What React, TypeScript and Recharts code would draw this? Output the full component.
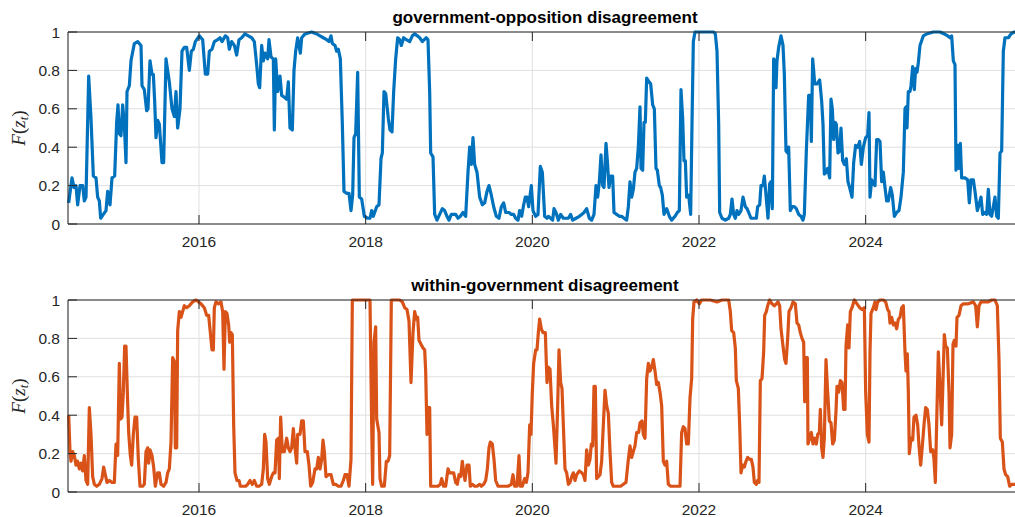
import React from 'react';
import { LineChart, Line, XAxis, YAxis, CartesianGrid } from 'recharts';

// decimal year, F(z_t)
const govOpposition: [number, number][] = [
  [2014.436, 0.11], [2014.476, 0.24], [2014.5, 0.19], [2014.524, 0.2], [2014.544, 0.1], [2014.572, 0.2], [2014.604, 0.2], [2014.624, 0.12],
  [2014.644, 0.14], [2014.676, 0.77], [2014.704, 0.55], [2014.732, 0.25], [2014.764, 0.24], [2014.784, 0.14], [2014.804, 0.12], [2014.82, 0.03],
  [2014.852, 0.05], [2014.884, 0.07], [2014.904, 0.17], [2014.932, 0.1], [2014.956, 0.24], [2014.988, 0.25], [2015.012, 0.53], [2015.028, 0.62],
  [2015.044, 0.47], [2015.064, 0.46], [2015.084, 0.62], [2015.104, 0.52], [2015.124, 0.32], [2015.136, 0.69], [2015.164, 0.72], [2015.184, 0.85],
  [2015.224, 0.94], [2015.264, 0.95], [2015.304, 0.93], [2015.316, 0.72], [2015.344, 0.7], [2015.372, 0.59], [2015.388, 0.6], [2015.412, 0.85],
  [2015.436, 0.78], [2015.452, 0.78], [2015.468, 0.64], [2015.484, 0.45], [2015.504, 0.54], [2015.524, 0.52], [2015.556, 0.32], [2015.576, 0.32],
  [2015.604, 0.86], [2015.644, 0.74], [2015.676, 0.6], [2015.704, 0.56], [2015.724, 0.69], [2015.744, 0.5], [2015.772, 0.6], [2015.796, 0.9],
  [2015.824, 0.92], [2015.852, 0.92], [2015.884, 0.8], [2015.908, 0.9], [2015.932, 0.91], [2015.956, 0.95], [2016.004, 0.98], [2016.044, 0.96],
  [2016.076, 0.78], [2016.104, 0.78], [2016.124, 0.9], [2016.156, 0.91], [2016.184, 0.95], [2016.224, 0.96], [2016.252, 0.97], [2016.276, 0.95],
  [2016.316, 0.98], [2016.344, 0.97], [2016.364, 0.91], [2016.392, 0.95], [2016.424, 0.93], [2016.452, 0.88], [2016.48, 0.96], [2016.512, 0.97],
  [2016.552, 0.99], [2016.592, 0.98], [2016.632, 0.97], [2016.664, 0.95], [2016.692, 0.83], [2016.712, 0.73], [2016.728, 0.71], [2016.752, 0.93],
  [2016.772, 0.85], [2016.792, 0.89], [2016.824, 0.86], [2016.84, 0.96], [2016.864, 0.87], [2016.892, 0.86], [2016.904, 0.49], [2016.92, 0.86],
  [2016.944, 0.69], [2016.972, 0.77], [2016.992, 0.67], [2017.024, 0.66], [2017.052, 0.65], [2017.072, 0.74], [2017.092, 0.5], [2017.12, 0.49],
  [2017.14, 0.8], [2017.16, 0.9], [2017.184, 0.97], [2017.2, 0.93], [2017.216, 0.89], [2017.232, 0.97], [2017.272, 0.99], [2017.352, 1],
  [2017.412, 0.99], [2017.452, 0.98], [2017.492, 0.97], [2017.532, 0.96], [2017.56, 0.95], [2017.584, 0.98], [2017.6, 0.94], [2017.632, 0.93],
  [2017.652, 0.9], [2017.672, 0.91], [2017.696, 0.86], [2017.72, 0.52], [2017.74, 0.17], [2017.772, 0.16], [2017.8, 0.16], [2017.824, 0.07],
  [2017.844, 0.15], [2017.86, 0.45], [2017.88, 0.47], [2017.904, 0.79], [2017.924, 0.14], [2017.952, 0.13], [2017.984, 0.04], [2018.024, 0.03],
  [2018.052, 0.03], [2018.072, 0.07], [2018.092, 0.04], [2018.132, 0.09], [2018.16, 0.1], [2018.184, 0.34], [2018.2, 0.37], [2018.22, 0.69],
  [2018.24, 0.68], [2018.272, 0.55], [2018.292, 0.49], [2018.316, 0.48], [2018.336, 0.69], [2018.36, 0.86], [2018.384, 0.97], [2018.408, 0.96],
  [2018.428, 0.93], [2018.456, 0.97], [2018.488, 0.96], [2018.528, 0.95], [2018.56, 0.98], [2018.588, 0.99], [2018.62, 0.98], [2018.648, 0.97],
  [2018.68, 0.95], [2018.704, 0.96], [2018.728, 0.97], [2018.748, 0.96], [2018.768, 0.69], [2018.78, 0.37], [2018.808, 0.35], [2018.828, 0.05],
  [2018.856, 0.02], [2018.888, 0.05], [2018.92, 0.08], [2018.948, 0.07], [2018.976, 0.04], [2019.0, 0.02], [2019.028, 0.05], [2019.056, 0.05],
  [2019.08, 0.05], [2019.108, 0.03], [2019.136, 0.04], [2019.168, 0.06], [2019.2, 0.04], [2019.228, 0.27], [2019.248, 0.4], [2019.268, 0.31],
  [2019.288, 0.45], [2019.308, 0.31], [2019.336, 0.27], [2019.368, 0.14], [2019.4, 0.1], [2019.428, 0.11], [2019.456, 0.17], [2019.48, 0.2],
  [2019.508, 0.15], [2019.536, 0.09], [2019.568, 0.04], [2019.6, 0.03], [2019.628, 0.09], [2019.656, 0.11], [2019.68, 0.06], [2019.72, 0.06],
  [2019.748, 0.05], [2019.776, 0.05], [2019.8, 0.03], [2019.828, 0.02], [2019.848, 0.07], [2019.872, 0.04], [2019.896, 0.1], [2019.916, 0.14],
  [2019.936, 0.14], [2019.956, 0.09], [2019.988, 0.2], [2020.008, 0.07], [2020.04, 0.04], [2020.068, 0.05], [2020.096, 0.3], [2020.12, 0.27],
  [2020.148, 0.04], [2020.176, 0.03], [2020.192, 0.04], [2020.22, 0.03], [2020.244, 0.02], [2020.26, 0.08], [2020.284, 0.06], [2020.312, 0.02],
  [2020.34, 0.05], [2020.372, 0.03], [2020.404, 0.03], [2020.432, 0.03], [2020.46, 0.05], [2020.484, 0.02], [2020.524, 0.03], [2020.564, 0.04],
  [2020.592, 0.05], [2020.62, 0.06], [2020.652, 0.08], [2020.684, 0.03], [2020.712, 0.02], [2020.74, 0.05], [2020.764, 0.2], [2020.784, 0.14],
  [2020.804, 0.22], [2020.824, 0.36], [2020.844, 0.2], [2020.86, 0.19], [2020.884, 0.42], [2020.9, 0.33], [2020.92, 0.19], [2020.94, 0.25],
  [2020.964, 0.25], [2020.98, 0.06], [2021.012, 0.05], [2021.044, 0.04], [2021.072, 0.04], [2021.1, 0.03], [2021.132, 0.02], [2021.152, 0.09],
  [2021.172, 0.22], [2021.192, 0.14], [2021.212, 0.18], [2021.232, 0.27], [2021.252, 0.29], [2021.272, 0.4], [2021.292, 0.61], [2021.304, 0.29],
  [2021.324, 0.28], [2021.34, 0.53], [2021.356, 0.53], [2021.372, 0.76], [2021.4, 0.74], [2021.42, 0.73], [2021.444, 0.62], [2021.464, 0.6],
  [2021.484, 0.29], [2021.5, 0.28], [2021.524, 0.2], [2021.54, 0.19], [2021.56, 0.15], [2021.58, 0.05], [2021.612, 0.08], [2021.644, 0.04],
  [2021.672, 0.02], [2021.712, 0.04], [2021.74, 0.06], [2021.764, 0.07], [2021.784, 0.7], [2021.804, 0.55], [2021.82, 0.33], [2021.836, 0.33],
  [2021.852, 0.14], [2021.876, 0.15], [2021.9, 0.05], [2021.916, 0.52], [2021.932, 0.95], [2021.952, 1], [2022.072, 1], [2022.176, 1],
  [2022.196, 0.99], [2022.216, 0.9], [2022.236, 0.52], [2022.248, 0.06], [2022.276, 0.03], [2022.316, 0.02], [2022.356, 0.03], [2022.376, 0.05],
  [2022.396, 0.13], [2022.416, 0.05], [2022.436, 0.03], [2022.456, 0.07], [2022.476, 0.05], [2022.504, 0.07], [2022.528, 0.14], [2022.556, 0.09],
  [2022.576, 0.08], [2022.596, 0.06], [2022.624, 0.03], [2022.656, 0.03], [2022.688, 0.03], [2022.704, 0.09], [2022.728, 0.1], [2022.744, 0.2],
  [2022.768, 0.2], [2022.784, 0.25], [2022.804, 0.15], [2022.828, 0.03], [2022.848, 0.21], [2022.864, 0.22], [2022.88, 0.08], [2022.896, 0.86],
  [2022.912, 0.85], [2022.924, 0.71], [2022.936, 0.85], [2022.956, 0.92], [2022.984, 0.98], [2023.008, 0.93], [2023.024, 0.78], [2023.044, 0.38],
  [2023.064, 0.37], [2023.076, 0.4], [2023.096, 0.07], [2023.12, 0.09], [2023.144, 0.09], [2023.168, 0.08], [2023.196, 0.05], [2023.224, 0.04],
  [2023.248, 0.02], [2023.264, 0.05], [2023.288, 0.38], [2023.316, 0.67], [2023.336, 0.67], [2023.348, 0.43], [2023.364, 0.86], [2023.376, 0.8],
  [2023.388, 0.73], [2023.416, 0.73], [2023.448, 0.75], [2023.472, 0.64], [2023.488, 0.52], [2023.504, 0.26], [2023.528, 0.27], [2023.544, 0.29],
  [2023.568, 0.24], [2023.584, 0.65], [2023.6, 0.6], [2023.616, 0.44], [2023.632, 0.53], [2023.648, 0.52], [2023.668, 0.37], [2023.688, 0.38],
  [2023.704, 0.5], [2023.724, 0.33], [2023.744, 0.31], [2023.768, 0.34], [2023.788, 0.22], [2023.808, 0.19], [2023.836, 0.14], [2023.856, 0.32],
  [2023.88, 0.41], [2023.904, 0.4], [2023.928, 0.43], [2023.948, 0.31], [2023.972, 0.4], [2024.0, 0.45], [2024.024, 0.46], [2024.04, 0.58],
  [2024.052, 0.14], [2024.072, 0.23], [2024.092, 0.21], [2024.112, 0.2], [2024.132, 0.44], [2024.152, 0.44], [2024.172, 0.43], [2024.192, 0.22],
  [2024.212, 0.27], [2024.232, 0.19], [2024.252, 0.12], [2024.272, 0.12], [2024.3, 0.19], [2024.32, 0.15], [2024.344, 0.04], [2024.372, 0.06],
  [2024.4, 0.07], [2024.424, 0.14], [2024.452, 0.27], [2024.472, 0.6], [2024.484, 0.61], [2024.496, 0.5], [2024.512, 0.69], [2024.532, 0.69],
  [2024.544, 0.72], [2024.564, 0.82], [2024.584, 0.7], [2024.6, 0.81], [2024.616, 0.79], [2024.632, 0.84], [2024.652, 0.93], [2024.692, 0.98],
  [2024.732, 0.99], [2024.812, 1], [2024.892, 1], [2024.944, 0.99], [2024.984, 0.98], [2025.012, 0.97], [2025.032, 0.98], [2025.052, 0.85],
  [2025.072, 0.83], [2025.084, 0.28], [2025.104, 0.41], [2025.12, 0.29], [2025.136, 0.42], [2025.152, 0.24], [2025.192, 0.24], [2025.224, 0.23],
  [2025.244, 0.11], [2025.264, 0.23], [2025.292, 0.23], [2025.312, 0.17], [2025.34, 0.07], [2025.36, 0.1], [2025.384, 0.14], [2025.404, 0.05],
  [2025.432, 0.06], [2025.452, 0.05], [2025.472, 0.18], [2025.492, 0.05], [2025.512, 0.04], [2025.532, 0.09], [2025.552, 0.14], [2025.572, 0.04],
  [2025.592, 0.03], [2025.612, 0.37], [2025.632, 0.38], [2025.652, 0.9], [2025.672, 0.97], [2025.712, 0.97], [2025.744, 0.99], [2025.784, 1],
  [2025.82, 1],
];

const withinGovernment: [number, number][] = [
  [2014.436, 0.4], [2014.452, 0.21], [2014.464, 0.16], [2014.484, 0.21], [2014.504, 0.19], [2014.524, 0.14], [2014.544, 0.16], [2014.564, 0.12],
  [2014.584, 0.15], [2014.604, 0.11], [2014.624, 0.19], [2014.644, 0.06], [2014.664, 0.04], [2014.684, 0.44], [2014.704, 0.3], [2014.724, 0.08],
  [2014.744, 0.04], [2014.772, 0.03], [2014.804, 0.04], [2014.836, 0.07], [2014.856, 0.13], [2014.876, 0.09], [2014.896, 0.05], [2014.924, 0.06],
  [2014.956, 0.05], [2014.984, 0.05], [2015.004, 0.25], [2015.024, 0.19], [2015.044, 0.67], [2015.06, 0.38], [2015.076, 0.39], [2015.092, 0.52],
  [2015.108, 0.76], [2015.124, 0.76], [2015.14, 0.52], [2015.156, 0.31], [2015.176, 0.19], [2015.192, 0.14], [2015.212, 0.3], [2015.232, 0.39],
  [2015.252, 0.39], [2015.272, 0.17], [2015.292, 0.03], [2015.324, 0.03], [2015.344, 0.04], [2015.364, 0.21], [2015.384, 0.23], [2015.396, 0.15],
  [2015.412, 0.22], [2015.436, 0.19], [2015.456, 0.13], [2015.476, 0.03], [2015.504, 0.1], [2015.524, 0.1], [2015.544, 0.04], [2015.576, 0.03],
  [2015.604, 0.05], [2015.624, 0.1], [2015.644, 0.12], [2015.664, 0.26], [2015.684, 0.7], [2015.704, 0.68], [2015.716, 0.23], [2015.732, 0.23],
  [2015.744, 0.84], [2015.764, 0.94], [2015.784, 0.91], [2015.804, 0.94], [2015.824, 0.97], [2015.852, 0.96], [2015.884, 0.97], [2015.924, 0.99],
  [2015.964, 1], [2015.996, 0.99], [2016.024, 0.98], [2016.064, 0.96], [2016.092, 0.92], [2016.116, 0.92], [2016.136, 0.83], [2016.156, 0.74],
  [2016.172, 0.74], [2016.184, 0.96], [2016.204, 0.99], [2016.236, 0.98], [2016.264, 0.99], [2016.284, 0.94], [2016.3, 0.64], [2016.316, 0.94],
  [2016.336, 0.93], [2016.356, 0.87], [2016.368, 0.78], [2016.384, 0.83], [2016.4, 0.82], [2016.416, 0.35], [2016.432, 0.1], [2016.456, 0.06],
  [2016.48, 0.06], [2016.496, 0.03], [2016.532, 0.03], [2016.56, 0.03], [2016.584, 0.04], [2016.612, 0.06], [2016.64, 0.04], [2016.664, 0.06],
  [2016.692, 0.03], [2016.72, 0.03], [2016.752, 0.04], [2016.772, 0.12], [2016.788, 0.3], [2016.804, 0.26], [2016.824, 0.07], [2016.844, 0.04],
  [2016.872, 0.08], [2016.892, 0.1], [2016.912, 0.1], [2016.932, 0.27], [2016.952, 0.28], [2016.964, 0.07], [2016.98, 0.39], [2017.0, 0.21],
  [2017.024, 0.21], [2017.052, 0.28], [2017.072, 0.23], [2017.092, 0.21], [2017.112, 0.23], [2017.132, 0.33], [2017.152, 0.23], [2017.172, 0.15],
  [2017.184, 0.3], [2017.212, 0.3], [2017.232, 0.37], [2017.252, 0.37], [2017.272, 0.21], [2017.3, 0.21], [2017.32, 0.14], [2017.34, 0.03],
  [2017.364, 0.05], [2017.392, 0.12], [2017.412, 0.12], [2017.432, 0.18], [2017.452, 0.12], [2017.472, 0.17], [2017.488, 0.27], [2017.504, 0.21],
  [2017.524, 0.08], [2017.552, 0.09], [2017.584, 0.09], [2017.612, 0.04], [2017.64, 0.04], [2017.672, 0.03], [2017.704, 0.03], [2017.732, 0.06],
  [2017.752, 0.09], [2017.776, 0.09], [2017.8, 0.03], [2017.824, 0.17], [2017.84, 1], [2017.892, 1], [2017.992, 1], [2018.052, 1],
  [2018.072, 0.35], [2018.084, 0.04], [2018.1, 0.78], [2018.12, 0.86], [2018.132, 0.38], [2018.144, 0.35], [2018.16, 0.31], [2018.172, 0.07],
  [2018.192, 0.03], [2018.224, 0.03], [2018.248, 0.16], [2018.268, 0.16], [2018.288, 0.19], [2018.308, 1], [2018.348, 1], [2018.408, 1],
  [2018.44, 0.99], [2018.468, 0.96], [2018.496, 0.95], [2018.52, 0.89], [2018.544, 0.57], [2018.568, 0.83], [2018.588, 0.94], [2018.608, 0.9],
  [2018.624, 0.91], [2018.64, 0.79], [2018.664, 0.77], [2018.688, 0.75], [2018.708, 0.74], [2018.72, 0.63], [2018.736, 0.3], [2018.752, 0.44],
  [2018.768, 0.44], [2018.78, 0.03], [2018.808, 0.03], [2018.84, 0.03], [2018.868, 0.03], [2018.896, 0.04], [2018.912, 0.07], [2018.936, 0.03],
  [2018.96, 0.03], [2018.988, 0.12], [2019.008, 0.1], [2019.028, 0.1], [2019.056, 0.1], [2019.08, 0.05], [2019.1, 0.04], [2019.12, 0.09],
  [2019.14, 0.08], [2019.16, 0.16], [2019.176, 0.1], [2019.192, 0.06], [2019.216, 0.14], [2019.24, 0.14], [2019.256, 0.03], [2019.28, 0.04],
  [2019.308, 0.03], [2019.336, 0.03], [2019.368, 0.04], [2019.388, 0.03], [2019.416, 0.04], [2019.44, 0.06], [2019.46, 0.12], [2019.48, 0.23],
  [2019.496, 0.26], [2019.52, 0.25], [2019.54, 0.17], [2019.56, 0.06], [2019.588, 0.03], [2019.628, 0.03], [2019.668, 0.03], [2019.708, 0.03],
  [2019.748, 0.04], [2019.768, 0.09], [2019.788, 0.03], [2019.816, 0.03], [2019.84, 0.19], [2019.856, 0.03], [2019.88, 0.03], [2019.908, 0.07],
  [2019.928, 0.05], [2019.948, 0.1], [2019.968, 0.35], [2019.984, 0.3], [2020.0, 0.52], [2020.016, 0.67], [2020.04, 0.74], [2020.056, 0.74],
  [2020.072, 0.83], [2020.088, 0.9], [2020.108, 0.85], [2020.128, 0.83], [2020.156, 0.83], [2020.176, 0.57], [2020.192, 0.65], [2020.212, 0.64],
  [2020.232, 0.45], [2020.252, 0.35], [2020.272, 0.23], [2020.284, 0.15], [2020.304, 0.45], [2020.32, 0.74], [2020.34, 0.57], [2020.356, 0.54],
  [2020.372, 0.35], [2020.392, 0.12], [2020.412, 0.1], [2020.432, 0.04], [2020.452, 0.05], [2020.472, 0.08], [2020.492, 0.1], [2020.512, 0.06],
  [2020.532, 0.09], [2020.564, 0.11], [2020.592, 0.1], [2020.612, 0.09], [2020.632, 0.06], [2020.652, 0.22], [2020.672, 0.14], [2020.692, 0.17],
  [2020.708, 0.25], [2020.724, 0.24], [2020.74, 0.55], [2020.756, 0.55], [2020.772, 0.07], [2020.792, 0.08], [2020.812, 0.09], [2020.832, 0.16],
  [2020.852, 0.35], [2020.872, 0.53], [2020.892, 0.45], [2020.912, 0.41], [2020.932, 0.21], [2020.952, 0.05], [2020.972, 0.03], [2021.004, 0.03],
  [2021.032, 0.03], [2021.06, 0.03], [2021.092, 0.04], [2021.124, 0.05], [2021.152, 0.17], [2021.172, 0.24], [2021.192, 0.18], [2021.212, 0.21],
  [2021.232, 0.24], [2021.252, 0.31], [2021.276, 0.31], [2021.292, 0.36], [2021.316, 0.37], [2021.332, 0.3], [2021.352, 0.28], [2021.372, 0.59],
  [2021.392, 0.67], [2021.412, 0.63], [2021.432, 0.65], [2021.452, 0.69], [2021.472, 0.63], [2021.492, 0.56], [2021.512, 0.57], [2021.532, 0.52],
  [2021.552, 0.45], [2021.572, 0.16], [2021.592, 0.14], [2021.612, 0.16], [2021.632, 0.04], [2021.66, 0.03], [2021.692, 0.03], [2021.724, 0.03],
  [2021.752, 0.03], [2021.772, 0.03], [2021.792, 0.31], [2021.812, 0.34], [2021.832, 0.33], [2021.852, 0.25], [2021.872, 0.25], [2021.892, 0.49],
  [2021.912, 0.59], [2021.924, 0.9], [2021.94, 0.99], [2021.972, 1], [2022.004, 0.98], [2022.032, 1], [2022.072, 1], [2022.136, 1],
  [2022.216, 0.99], [2022.276, 1], [2022.356, 1], [2022.376, 0.94], [2022.392, 0.84], [2022.416, 0.83], [2022.436, 0.75], [2022.448, 0.58],
  [2022.472, 0.54], [2022.488, 0.35], [2022.504, 0.1], [2022.524, 0.14], [2022.544, 0.13], [2022.564, 0.16], [2022.584, 0.18], [2022.608, 0.17],
  [2022.628, 0.17], [2022.648, 0.13], [2022.664, 0.05], [2022.688, 0.04], [2022.704, 0.06], [2022.72, 0.05], [2022.736, 0.58], [2022.756, 0.59],
  [2022.776, 0.73], [2022.788, 0.92], [2022.808, 0.94], [2022.824, 0.97], [2022.848, 1], [2022.876, 0.98], [2022.904, 0.97], [2022.928, 0.98],
  [2022.948, 0.99], [2022.968, 0.97], [2022.984, 0.85], [2023.008, 0.76], [2023.028, 0.69], [2023.044, 0.67], [2023.064, 0.8], [2023.08, 0.94],
  [2023.104, 0.96], [2023.128, 0.99], [2023.156, 0.98], [2023.176, 0.88], [2023.196, 0.87], [2023.216, 0.83], [2023.236, 0.8], [2023.256, 0.78],
  [2023.268, 0.47], [2023.284, 0.7], [2023.3, 0.7], [2023.308, 0.25], [2023.328, 0.28], [2023.348, 0.31], [2023.368, 0.25], [2023.388, 0.28],
  [2023.408, 0.25], [2023.424, 0.3], [2023.444, 0.31], [2023.456, 0.43], [2023.472, 0.23], [2023.488, 0.18], [2023.504, 0.28], [2023.524, 0.69],
  [2023.544, 0.52], [2023.564, 0.37], [2023.584, 0.36], [2023.604, 0.25], [2023.624, 0.27], [2023.644, 0.42], [2023.656, 0.55], [2023.676, 0.52],
  [2023.696, 0.58], [2023.716, 0.57], [2023.736, 0.43], [2023.752, 0.43], [2023.764, 0.76], [2023.784, 0.87], [2023.8, 0.75], [2023.816, 0.94],
  [2023.836, 0.96], [2023.864, 1], [2023.896, 0.98], [2023.928, 0.96], [2023.956, 0.95], [2023.984, 0.96], [2024.0, 0.52], [2024.02, 0.3],
  [2024.04, 0.26], [2024.052, 0.73], [2024.064, 0.93], [2024.092, 0.96], [2024.112, 0.99], [2024.124, 0.95], [2024.144, 0.99], [2024.172, 1],
  [2024.212, 1], [2024.24, 0.99], [2024.264, 0.95], [2024.28, 0.94], [2024.292, 0.88], [2024.312, 0.91], [2024.332, 0.87], [2024.352, 0.88],
  [2024.372, 0.85], [2024.392, 0.9], [2024.412, 0.91], [2024.432, 0.96], [2024.452, 0.97], [2024.472, 0.73], [2024.484, 0.63], [2024.5, 0.72],
  [2024.512, 0.52], [2024.524, 0.2], [2024.544, 0.28], [2024.564, 0.27], [2024.58, 0.39], [2024.604, 0.4], [2024.624, 0.35], [2024.64, 0.24],
  [2024.66, 0.14], [2024.68, 0.24], [2024.7, 0.35], [2024.72, 0.44], [2024.74, 0.43], [2024.76, 0.35], [2024.78, 0.21], [2024.804, 0.22],
  [2024.82, 0.17], [2024.836, 0.05], [2024.852, 0.36], [2024.872, 0.73], [2024.892, 0.55], [2024.912, 0.35], [2024.924, 0.52], [2024.944, 0.82],
  [2024.96, 0.76], [2024.98, 0.75], [2025.0, 0.52], [2025.012, 0.23], [2025.032, 0.3], [2025.048, 0.77], [2025.064, 0.79], [2025.084, 0.76],
  [2025.096, 0.91], [2025.12, 0.92], [2025.144, 0.97], [2025.172, 0.98], [2025.232, 0.98], [2025.292, 0.99], [2025.32, 0.97], [2025.34, 0.86],
  [2025.36, 0.97], [2025.384, 0.99], [2025.432, 0.99], [2025.472, 0.99], [2025.512, 1], [2025.552, 1], [2025.58, 0.97], [2025.6, 0.69],
  [2025.616, 0.28], [2025.64, 0.26], [2025.66, 0.12], [2025.68, 0.09], [2025.704, 0.08], [2025.728, 0.03], [2025.752, 0.04], [2025.784, 0.04],
  [2025.82, 0.04],
];

const yearTicks = [2016, 2018, 2020, 2022, 2024];
const valueTicks = [0, 0.2, 0.4, 0.6, 0.8, 1];
const yearDomain = [2014.428, 2025.876];
const panelTitles = ['government-opposition disagreement', 'within-government disagreement'];

const AXIS_COLOR = '#262626';
const GRID_COLOR = '#dfdfdf';
const SANS = '"Liberation Sans", Arial, Helvetica, sans-serif';
const TICK_FONT = 15.5;
const TICK_LEN = 9;

const fmtValue = (v: number) => (v === 0 || v === 1 ? String(v) : v.toFixed(1));

// MATLAB-style ticks: short marks pointing into the plot box
const BottomTick = (props: any) => {
  const { x, y, payload } = props;
  return (
    <g>
      <line x1={x} y1={y} x2={x} y2={y - TICK_LEN} stroke={AXIS_COLOR} strokeWidth={1} />
      <text x={x} y={y + 23} textAnchor="middle" fill={AXIS_COLOR} fontSize={TICK_FONT} fontFamily={SANS}>
        {payload.value}
      </text>
    </g>
  );
};

const TopTick = (props: any) => {
  const { x, y } = props;
  return <line x1={x} y1={y} x2={x} y2={y + TICK_LEN} stroke={AXIS_COLOR} strokeWidth={1} />;
};

const LeftTick = (props: any) => {
  const { x, y, payload } = props;
  return (
    <g>
      <line x1={x} y1={y} x2={x + TICK_LEN} y2={y} stroke={AXIS_COLOR} strokeWidth={1} />
      <text x={x - 8} y={y} dy="0.36em" textAnchor="end" fill={AXIS_COLOR} fontSize={TICK_FONT} fontFamily={SANS}>
        {fmtValue(payload.value)}
      </text>
    </g>
  );
};

const RightTick = (props: any) => {
  const { x, y } = props;
  return <line x1={x} y1={y} x2={x - TICK_LEN} y2={y} stroke={AXIS_COLOR} strokeWidth={1} />;
};

interface PanelProps {
  series: [number, number][];
  color: string;
  title: string;
  top: number;
}

const Panel: React.FC<PanelProps> = ({ series, color, title, top }) => {
  const data = series.map(([t, v]) => ({ t, v }));
  return (
    <div style={{ position: 'absolute', left: 0, top, width: 1023, height: 258 }}>
      <div
        style={{
          position: 'absolute',
          left: 68,
          width: 954,
          top: 7,
          textAlign: 'center',
          fontFamily: SANS,
          fontWeight: 'bold',
          fontSize: 17,
          lineHeight: '22px',
          color: '#000',
        }}
      >
        {title}
      </div>
      <div
        style={{
          position: 'absolute',
          left: -11,
          top: 116,
          width: 60,
          height: 24,
          lineHeight: '24px',
          textAlign: 'center',
          transform: 'rotate(-90deg)',
          fontFamily: '"Liberation Serif", "DejaVu Serif", serif',
          fontSize: 19,
          color: AXIS_COLOR,
          whiteSpace: 'nowrap',
        }}
      >
        <i>F</i>(<i>z</i>
        <sub style={{ fontSize: 13, verticalAlign: '-3px' }}>
          <i>t</i>
        </sub>
        )
      </div>
      <LineChart width={1023} height={258} data={data} margin={{ top: 31, right: 1, bottom: 0, left: 0 }}>
        <CartesianGrid stroke={GRID_COLOR} strokeWidth={1} />
        <Line
          type="linear"
          dataKey="v"
          stroke={color}
          strokeWidth={3.2}
          dot={false}
          strokeLinejoin="round"
          isAnimationActive={false}
        />
        <XAxis
          dataKey="t"
          type="number"
          domain={yearDomain}
          ticks={yearTicks}
          interval={0}
          height={34}
          stroke={AXIS_COLOR}
          tickLine={false}
          tickSize={0}
          tickMargin={0}
          tick={<BottomTick />}
        />
        <XAxis
          xAxisId="top"
          dataKey="t"
          orientation="top"
          type="number"
          domain={yearDomain}
          ticks={yearTicks}
          interval={0}
          height={1}
          stroke={AXIS_COLOR}
          tickLine={false}
          tickSize={0}
          tickMargin={0}
          tick={<TopTick />}
        />
        <YAxis
          type="number"
          domain={[0, 1]}
          ticks={valueTicks}
          interval={0}
          width={68}
          stroke={AXIS_COLOR}
          tickLine={false}
          tickSize={0}
          tickMargin={0}
          tick={<LeftTick />}
        />
        <YAxis
          yAxisId="right"
          orientation="right"
          type="number"
          domain={[0, 1]}
          ticks={valueTicks}
          interval={0}
          width={0}
          stroke={AXIS_COLOR}
          tickLine={false}
          tickSize={0}
          tickMargin={0}
          tick={<RightTick />}
        />
      </LineChart>
    </div>
  );
};

export default function App() {
  return (
    <div
      style={{
        position: 'absolute',
        left: 0,
        top: 0,
        width: 1015,
        height: 517,
        overflow: 'hidden',
        background: '#fff',
      }}
    >
      <Panel series={govOpposition} color="#0072bd" title={panelTitles[0]} top={0} />
      <Panel series={withinGovernment} color="#d95319" title={panelTitles[1]} top={268} />
    </div>
  );
}
